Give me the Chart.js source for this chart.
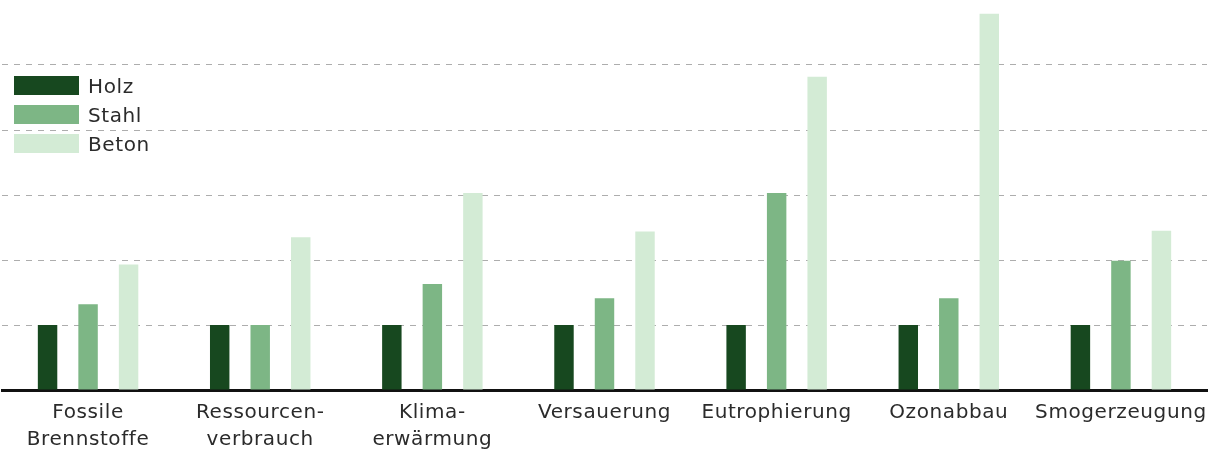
<!DOCTYPE html>
<html>
<head>
<meta charset="utf-8">
<script src="https://cdn.jsdelivr.net/npm/chart.js@4.4.0/dist/chart.umd.min.js"></script>
<style>
  html, body { margin: 0; padding: 0; background: #ffffff; }
  #wrap { position: relative; width: 1220px; height: 453px; }
  #legend {
    position: absolute; left: 14px; top: 76px;
    font-family: "DejaVu Sans", sans-serif; font-size: 20px; letter-spacing: 0.6px; color: #2b2b2b;
  }
  #legend .row { display: flex; align-items: center; height: 19px; margin-bottom: 10px; }
  #legend .box { width: 65px; height: 19px; margin-right: 9px; }
</style>
</head>
<body>
<div id="wrap">
  <canvas id="myChart" width="1220" height="453"></canvas>
  <div id="legend"></div>
</div>
<script>
const categories = [
    ["Fossile", "Brennstoffe"],
    ["Ressourcen-", "verbrauch"],
    ["Klima-", "erwärmung"],
    "Versauerung",
    "Eutrophierung",
    "Ozonabbau",
    "Smogerzeugung"
];
const holz  = [1, 1, 1, 1, 1, 1, 1];
const stahl = [1.32, 1.0, 1.63, 1.41, 3.03, 1.41, 1.99];
const beton = [1.93, 2.35, 3.03, 2.44, 4.82, 5.79, 2.45];

const seriesNames = ["Holz", "Stahl", "Beton"];
const colors = ["#17481f", "#7db685", "#d3ebd5"];

const datasets = [holz, stahl, beton].map((values, i) => ({
    label: seriesNames[i],
    data: values,
    backgroundColor: colors[i],
    borderWidth: 0,
    barPercentage: 0.48,
    categoryPercentage: 0.706
}));

// legend as html, built from the datasets
const legend = document.getElementById("legend");
datasets.forEach(ds => {
    const row = document.createElement("div");
    row.className = "row";
    row.innerHTML = '<div class="box" style="background:' + ds.backgroundColor + '"></div><span>' + ds.label + '</span>';
    legend.appendChild(row);
});

// a bit of letter spacing, the original font is wider
const spacing = {
    id: "spacing",
    beforeDraw(chart) { chart.ctx.letterSpacing = "0.6px"; }
};

const ctx = document.getElementById("myChart").getContext("2d");
new Chart(ctx, {
    type: "bar",
    data: {
        labels: categories,
        datasets: datasets
    },
    plugins: [spacing],
    options: {
        responsive: false,
        animation: false,
        layout: { padding: { left: 2, right: 13, top: 0, bottom: 0 } },
        plugins: {
            legend: { display: false },
            tooltip: { enabled: false }
        },
        scales: {
            x: {
                grid: { display: false, drawTicks: false },
                border: { display: true, color: "#111", width: 3 },
                ticks: {
                    color: "#2b2b2b",
                    padding: 10,
                    maxRotation: 0,
                    autoSkip: false,
                    font: { family: "DejaVu Sans", size: 20, lineHeight: 1.32 }
                },
                afterFit: scale => { scale.height = 63; }
            },
            y: {
                display: true,
                min: 0,
                max: 6,
                ticks: { display: false, stepSize: 1 },
                border: { display: false, dash: [6, 6] },
                grid: {
                    drawTicks: false,
                    lineWidth: 1,
                    color: c => (c.tick.value === 0 || c.tick.value === 6) ? "rgba(0,0,0,0)" : "#adadad"
                },
                afterFit: scale => { scale.width = 0; }
            }
        }
    }
});
</script>
</body>
</html>
